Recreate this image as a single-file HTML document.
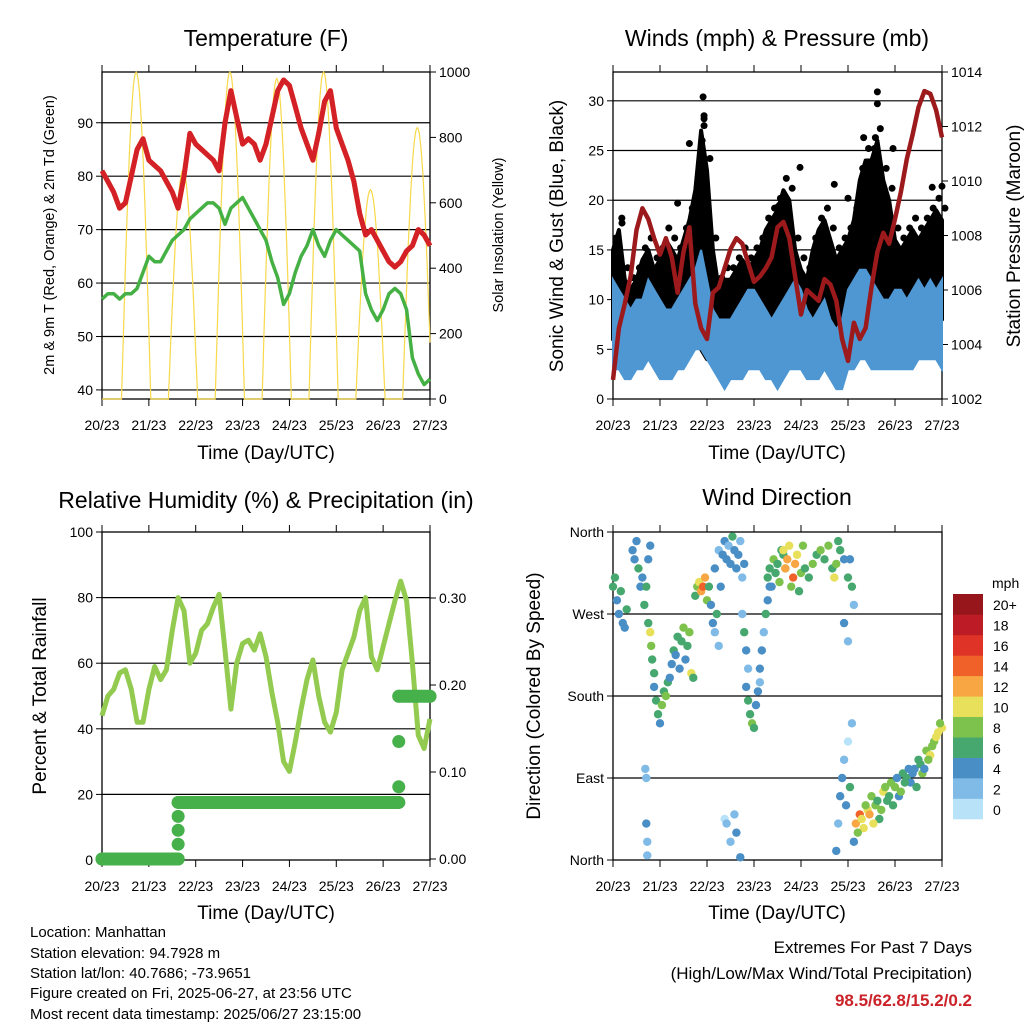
<!DOCTYPE html>
<html><head><meta charset="utf-8"><style>
html,body{margin:0;padding:0;background:#fff;width:1024px;height:1024px;overflow:hidden}
svg{display:block;font-family:"Liberation Sans",Arial,sans-serif}
</style></head><body>
<svg id="fig" width="1024" height="1024" viewBox="0 0 1024 1024" xmlns="http://www.w3.org/2000/svg">
<text x="266" y="46" font-size="23" text-anchor="middle">Temperature (F)</text>
<text x="777" y="46" font-size="23" text-anchor="middle">Winds (mph) &amp; Pressure (mb)</text>
<text x="266" y="508" font-size="23" text-anchor="middle">Relative Humidity (%) &amp; Precipitation (in)</text>
<text x="777" y="505" font-size="23" text-anchor="middle">Wind Direction</text>
<text transform="translate(54,235) rotate(-90)" font-size="14.5" text-anchor="middle">2m &amp; 9m T (Red, Orange) &amp; 2m Td (Green)</text>
<text transform="translate(503,235) rotate(-90)" font-size="14.5" text-anchor="middle">Solar Insolation (Yellow)</text>
<text transform="translate(563,236) rotate(-90)" font-size="19" text-anchor="middle">Sonic Wind &amp; Gust (Blue, Black)</text>
<text transform="translate(1020,236) rotate(-90)" font-size="19" text-anchor="middle">Station Pressure (Maroon)</text>
<text transform="translate(46,696) rotate(-90)" font-size="19" text-anchor="middle">Percent &amp; Total Rainfall</text>
<text transform="translate(540,696) rotate(-90)" font-size="19" text-anchor="middle">Direction (Colored By Speed)</text>
<text x="266" y="459" font-size="19" text-anchor="middle">Time (Day/UTC)</text>
<text x="777" y="459" font-size="19" text-anchor="middle">Time (Day/UTC)</text>
<text x="266" y="919" font-size="19" text-anchor="middle">Time (Day/UTC)</text>
<text x="777" y="919" font-size="19" text-anchor="middle">Time (Day/UTC)</text>
<g font-size="15">
<text x="30" y="937">Location: Manhattan</text>
<text x="30" y="958">Station elevation: 94.7928 m</text>
<text x="30" y="978">Station lat/lon: 40.7686; -73.9651</text>
<text x="30" y="998">Figure created on Fri, 2025-06-27, at 23:56 UTC</text>
<text x="30" y="1019">Most recent data timestamp: 2025/06/27 23:15:00</text>
</g>
<g font-size="17" text-anchor="end">
<text x="972" y="953">Extremes For Past 7 Days</text>
<text x="972" y="979">(High/Low/Max Wind/Total Precipitation)</text>
<text x="972" y="1006" fill="#cc2229" font-weight="bold">98.5/62.8/15.2/0.2</text>
</g>
</svg>
<script>
const dayLabels=["20/23","21/23","22/23","23/23","24/23","25/23","26/23","27/23"];
const tempTicks=[40,50,60,70,80,90];
const solarTicks=[0,200,400,600,800,1000];
const windTicks=[0,5,10,15,20,25,30];
const presTicks=[1002,1004,1006,1008,1010,1012,1014];
const rhTicks=[0,20,40,60,80,100];
const precipTicks=[0.00,0.10,0.20,0.30];
const dirLabels=["North","East","South","West","North"];
const dirTicks=[0,90,180,270,360];
// 3-hourly series (57 points, 0..168 h)
const tempT=[81,79,77,74,75,80,85,87,83,82,81,79,77,74,80,88,86,85,84,83,81,90,96,91,86,87,86,83,86,91,96,98,97,93,89,86,83,88,94,96,89,86,83,79,73,69,70,68,66,64,63,64,66,67,70,69,67];
const tempTd=[57,58,58,57,58,58,59,62,65,64,64,66,68,69,70,72,73,74,75,75,74,71,74,75,76,74,72,70,68,64,61,56,58,62,65,67,70,67,65,68,70,69,68,67,66,58,55,53,55,58,59,58,55,46,43,41,42];
const solarPeak=[1000,700,1000,980,1000,640,830];
const pressure=[1002.7,1004.6,1005.5,1006.5,1008.2,1009.0,1008.6,1007.9,1007.3,1007.9,1007.2,1005.9,1007.4,1008.3,1005.5,1004.6,1004.2,1005.9,1006.1,1006.8,1007.5,1007.9,1007.7,1007.0,1006.3,1006.5,1006.8,1007.2,1008.3,1008.5,1007.9,1006.5,1005.1,1006.0,1005.8,1005.6,1006.4,1006.2,1005.6,1004.2,1003.4,1004.8,1004.2,1004.6,1006.1,1007.4,1008.1,1007.7,1008.6,1009.6,1010.8,1011.7,1012.7,1013.3,1013.2,1012.6,1011.6];
const windHi=[12,11,10,9,10,10,12,11,10,9,9,10,11,12,13,15,12,9,8,8,8,9,10,11,11,10,9,8,9,10,11,12,11,9,8,9,10,8,7,8,11,12,13,13,12,11,10,10,11,11,10,11,12,11,12,11,12];
const windLo=[3,3,2,2,3,3,4,3,2,2,2,3,3,4,5,5,4,3,2,1,2,2,2,3,3,3,2,2,1,2,3,3,3,2,2,2,3,2,1,1,3,3,4,4,3,3,3,3,3,3,3,3,4,4,4,4,3];
const gustHi=[15,17,12,11,12,14,15,13,14,16,15,14,16,18,21,27,23,15,11,12,12,13,14,13,14,15,17,18,19,21,20,15,13,12,15,17,18,16,14,15,16,18,22,24,24,26,22,20,16,15,16,17,16,17,18,19,18];
const gustLo=[6,6,5,6,7,6,5,5,6,6,7,8,8,7,6,5,4,4,4,5,5,6,6,7,7,6,5,6,7,7,8,8,8,6,6,6,7,7,6,5,6,8,9,9,10,10,10,9,8,7,7,7,8,8,8,8,8];
const gustPeakHour=[46,46.5,46.5,45.5,39,135,135,134,128,143,95.5,163,168,113,84,120,33,4.6,85];
const gustPeakVal=[30.4,28.5,27.5,26,25.7,30.9,29.7,26.3,26.3,25.2,23.3,21.3,21.4,21.6,19.3,20.2,19.7,17.7,19.5];
const rh=[44,50,52,57,58,52,42,42,52,59,55,58,70,80,76,60,63,70,72,77,81,64,46,60,66,67,64,69,62,51,42,30,27,36,46,55,61,50,42,39,45,58,63,68,76,80,62,58,65,72,79,85,79,60,38,34,43];
const precipHour=[0,39,39,39,39,39,152,152,152,152,168];
const precipVal=[0,0,0.017,0.033,0.049,0.065,0.065,0.083,0.135,0.187,0.187];
const wdHour=[0,1,2,3,4,5,6,7,10,11,12,13,14,15,16,17,18,19,16.5,17,17,17.5,17.5,18,19,19.5,20,21,21,22,23,24,25,26,27,28,29,30,31,32,33,34,35,36,37,38,39,40,41,42,43,44,45,46,47,48,49,50,51,52,53,54,55,52,54,56,57,58,59,60,61,62,63,64,65,66,67,57,58,60,62,63,65,66,67,68,69,68,69,70,71,72,73,74,75,75,76,77,78,79,80,79,80,81,82,83,84,85,86,87,88,87,88,89,90,91,92,93,94,95,96,97,98,100,102,104,106,108,110,112,113,114,115,116,118,120,122,118,120,121,123,114,115,116,117,118,119,120,121,122,123,124,126,128,130,132,134,136,138,140,142,144,146,148,150,152,154,156,158,160,162,164,166,168,125,127,129,131,133,135,137,139,141,143,145,147,149,151,153,155,157,159,161,163,165,167];
const wdDir=[300,310,285,270,295,260,255,275,340,330,350,320,300,310,280,300,330,345,100,90,40,20,5,260,250,235,220,205,190,175,160,150,170,185,180,195,200,215,230,225,245,210,240,255,220,235,250,205,200,290,300,305,295,300,310,285,300,280,260,250,270,235,300,320,340,335,350,330,345,325,355,340,320,335,350,310,325,45,40,20,50,30,3,270,250,230,210,190,175,160,150,145,170,185,195,210,230,250,270,285,300,310,320,300,330,315,325,305,340,335,320,340,320,330,345,300,310,325,335,295,315,345,320,310,325,335,340,330,345,320,310,325,350,340,330,310,300,260,240,330,280,10,40,70,90,110,60,130,80,150,20,40,50,35,55,70,60,45,75,65,85,80,70,95,90,85,100,110,95,120,115,130,140,145,30,45,60,50,40,65,55,80,70,60,90,75,85,100,95,80,105,100,110,125,135,150];
const wdSpeed=[6,7,5,4,6,5,4,7,4,5,4,6,5,4,7,6,5,4,2,3,4,3,2,6,10,9,7,6,5,7,6,4,8,6,9,7,5,4,6,5,7,4,6,8,5,7,9,10,7,7,9,11,13,15,12,8,6,5,4,3,6,2,5,4,3,4,5,4,3,4,6,4,5,4,3,2,4,1,2,3,3,5,4,3,6,4,2,4,6,7,9,6,4,5,3,4,5,3,6,4,5,6,7,5,8,6,7,9,6,7,8,10,12,13,11,9,14,12,10,7,9,8,6,7,8,6,9,7,8,6,10,8,7,6,5,7,6,4,3,5,3,5,3,4,4,2,4,1,6,2,4,12,14,10,11,9,8,7,10,6,8,9,5,7,6,4,5,7,8,9,10,8,11,10,9,11,8,13,10,6,9,8,7,6,5,9,6,5,4,6,7,5,8,9,10,9];
const speedColors=["#b8e2f8","#7fbbe6","#4a8ec6","#46a86e","#7dc24c","#e8e05a","#f8a644","#f0612a","#de3326","#bd1c26","#96161c"];
const speedLabels=["0","2","4","6","8","10","12","14","16","18","20+"];

const NS="http://www.w3.org/2000/svg";
const svg=document.getElementById('fig');
function mk(tag,attrs,parent){const e=document.createElementNS(NS,tag);for(const k in attrs)e.setAttribute(k,attrs[k]);(parent||svg).appendChild(e);return e;}
function txt(s,attrs,parent){const e=mk('text',attrs,parent);e.textContent=s;return e;}

const P={
 temp:{x0:102,x1:430,y0:72,y1:399},
 wind:{x0:613,x1:942,y0:72,y1:399},
 rh:{x0:102,x1:430,y0:532,y1:860},
 dir:{x0:613,x1:942,y0:532,y1:860}
};
function xs(p,h){return p.x0+h*(p.x1-p.x0)/168;}
function lin(p,lo,hi){return v=>p.y1-(v-lo)*(p.y1-p.y0)/(hi-lo);}
const yT=lin(P.temp,38.3,99.5), yS=lin(P.temp,0,1000);
const yW=lin(P.wind,0,32.9), yP=lin(P.wind,1002,1014);
const yR=lin(P.rh,0,100), yPr=v=>859-v*870;
const yD=lin(P.dir,0,360);
function hr(i){return i*3;}

function frame(p,name,leftTicks,leftFn,leftFmt,rightTicks,rightFn,rightFmt,grid){
  const g=mk('g',{});
  
  
  if(grid){leftTicks.forEach(v=>{const y=leftFn(v);if(y>p.y0+1&&y<p.y1-1){const l=mk('line',{x1:p.x0,x2:p.x1,y1:y,y2:y,stroke:'#000','stroke-width':1.2},g);
    
    }});}
  dayLabels.forEach((s,k)=>{const x=xs(p,k*24);
    mk('line',{x1:x,x2:x,y1:p.y1,y2:p.y1+7,stroke:'#000','stroke-width':1},g);
    mk('line',{x1:x,x2:x,y1:p.y0,y2:p.y0-7,stroke:'#000','stroke-width':1},g);
    const t=txt(s,{x:x,y:p.y1+31,'font-size':14,'text-anchor':'middle'},g);
    
    });
  leftTicks.forEach(v=>{const y=leftFn(v);
    mk('line',{x1:p.x0-6,x2:p.x0,y1:y,y2:y,stroke:'#000','stroke-width':1},g);
    const t=txt(leftFmt(v),{x:p.x0-9,y:y+5,'font-size':14,'text-anchor':'end'},g);
    
    });
  if(rightTicks){rightTicks.forEach(v=>{const y=rightFn(v);
    mk('line',{x1:p.x1,x2:p.x1+6,y1:y,y2:y,stroke:'#000','stroke-width':1},g);
    const t=txt(rightFmt(v),{x:p.x1+9,y:y+5,'font-size':14},g);
    
    });}
  const r=mk('rect',{x:p.x0,y:p.y0,width:p.x1-p.x0,height:p.y1-p.y0,fill:'none',stroke:'#000','stroke-width':1.3},g);
  
  
}
function path(pts){return pts.map((q,i)=>(i?'L':'M')+q[0].toFixed(1)+' '+q[1].toFixed(1)).join(' ');}

// Panel 1: temperature
frame(P.temp,'temperature',tempTicks,yT,v=>String(v),solarTicks,yS,v=>String(v),true);
(function(){
  const p=P.temp,pts=[];
  for(let h=0;h<=168;h+=0.5){
    const d=Math.floor((h-10)/24);const t=h-10-24*d;
    let v=0;if(d>=0&&d<solarPeak.length&&t<15){v=solarPeak[d]*Math.sin(Math.PI*t/15);}
    pts.push([xs(p,h),yS(v)]);
  }
  const s=mk('path',{d:path(pts),fill:'none',stroke:'#f7d94a','stroke-width':1.2});
  
  
  const tp=tempT.map((v,i)=>[xs(p,hr(i)),yT(v)]);
  const o=mk('path',{d:path(tp),fill:'none',stroke:'#f08a2a','stroke-width':5,'stroke-linejoin':'round'});
  
  
  const r=mk('path',{d:path(tp),fill:'none',stroke:'#d42027','stroke-width':5,'stroke-linejoin':'round'});
  
  
  const dp=tempTd.map((v,i)=>[xs(p,hr(i)),yT(v)]);
  const g=mk('path',{d:path(dp),fill:'none',stroke:'#45b043','stroke-width':3.5,'stroke-linejoin':'round'});
  
  
})();

// Panel 2: winds
frame(P.wind,'winds',windTicks,yW,v=>String(v),presTicks,yP,v=>String(v),true);
(function(){
  const p=P.wind;
  const top=gustHi.map((v,i)=>[xs(p,hr(i)),yW(v)]);
  const bot=gustLo.map((v,i)=>[xs(p,hr(i)),yW(v)]).reverse();
  const a=mk('path',{d:path(top.concat(bot))+'Z',fill:'#000',stroke:'#000','stroke-width':4,'stroke-linejoin':'round'});
  
  
  gustHi.forEach((v,i)=>{const c=mk('circle',{cx:xs(p,hr(i)+1.5),cy:yW(v+1.2),r:3.5,fill:'#000'});
    
    });
  gustPeakHour.forEach((h,i)=>{const c=mk('circle',{cx:xs(p,h),cy:yW(gustPeakVal[i]),r:3.5,fill:'#000'});
    
    });
  const wt=windHi.map((v,i)=>[xs(p,hr(i)),yW(v)]);
  const wb=windLo.map((v,i)=>[xs(p,hr(i)),yW(v)]).reverse();
  const b=mk('path',{d:path(wt.concat(wb))+'Z',fill:'#4f97d3',stroke:'#4f97d3','stroke-width':2});
  
  
  const pp=pressure.map((v,i)=>[xs(p,hr(i)),yP(v)]);
  const l=mk('path',{d:path(pp),fill:'none',stroke:'#9c1a1c','stroke-width':4.5,'stroke-linejoin':'round'});
  
  
})();

// Panel 3: RH & precip
frame(P.rh,'humidity',rhTicks,yR,v=>String(v),precipTicks,yPr,v=>v.toFixed(2),true);
(function(){
  const p=P.rh;
  const l=mk('path',{d:path(rh.map((v,i)=>[xs(p,hr(i)),yR(v)])),fill:'none',stroke:'#92cb4f','stroke-width':5,'stroke-linejoin':'round'});
  
  
  for(let i=0;i<precipHour.length;i++){
    const x=xs(p,precipHour[i]),y=yPr(precipVal[i]);
    if(i>0&&precipVal[i]===precipVal[i-1]){
      const s=mk('line',{x1:xs(p,precipHour[i-1]),x2:x,y1:y,y2:y,stroke:'#46b04a','stroke-width':13,'stroke-linecap':'round'});
      
      
    }
    const c=mk('circle',{cx:x,cy:y,r:6.5,fill:'#46b04a'});
    
    
  }
})();

// Panel 4: wind direction
frame(P.dir,'direction',dirTicks,yD,v=>dirLabels[dirTicks.indexOf(v)],null,null,null,true);
(function(){
  const p=P.dir;
  wdHour.forEach((h,i)=>{
    const k=Math.min(10,Math.floor(wdSpeed[i]/2));
    const c=mk('circle',{cx:xs(p,h),cy:yD(wdDir[i]),r:4.2,fill:speedColors[k]});
    
    
  });
  const g=mk('g',{});
  
  
  const t=txt('mph',{x:992,y:588,'font-size':14},g);
  
  
  const bh=(819-594)/speedColors.length;
  for(let k=0;k<speedColors.length;k++){
    const y=819-(k+1)*bh;
    const r=mk('rect',{x:953,y:y,width:30,height:bh+0.3,fill:speedColors[k]},g);
    
    
    const l=txt(speedLabels[k],{x:993,y:y+bh/2+6,'font-size':14},g);
    
    
  }
})();
</script>
</body></html>
